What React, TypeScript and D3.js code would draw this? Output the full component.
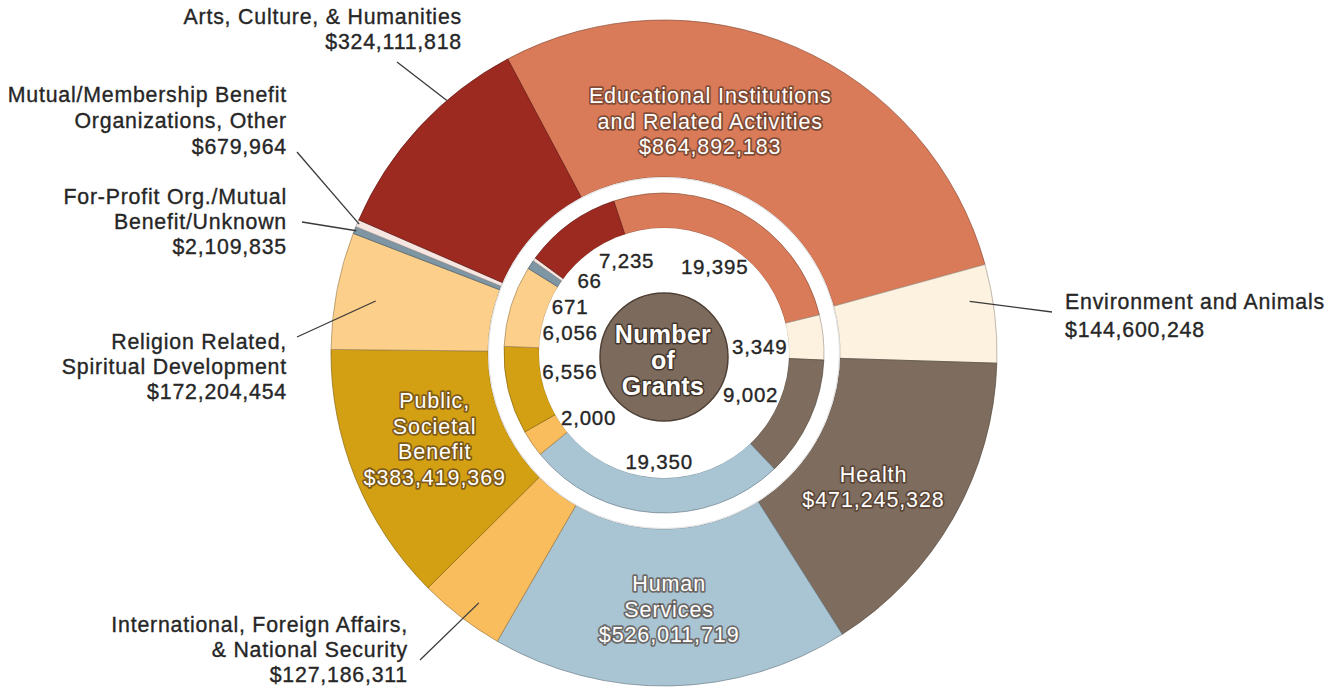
import React from 'react';
import * as d3 from 'd3';

// ---------- DATA ----------
const categoryKeys = ['edu', 'env', 'health', 'human', 'intl', 'public', 'religion', 'forprofit', 'mutual', 'arts'];
const categoryNames = [
  'Educational Institutions and Related Activities',
  'Environment and Animals',
  'Health',
  'Human Services',
  'International, Foreign Affairs, & National Security',
  'Public, Societal Benefit',
  'Religion Related, Spiritual Development',
  'For-Profit Org./Mutual Benefit/Unknown',
  'Mutual/Membership Benefit Organizations, Other',
  'Arts, Culture, & Humanities',
];
const dollarAmounts = [864892183, 144600248, 471245328, 526011719, 127186311, 383419369, 172204454, 2109835, 679964, 324111818];
const grantCounts = [19395, 3349, 9002, 19350, 2000, 6556, 6056, 671, 66, 7235];
const sliceColors = ['#d97a58', '#fdf2e0', '#7e6d5e', '#a9c5d4', '#f9bd5e', '#d3a014', '#fccf8a', '#7e95a3', '#f5e6e2', '#9c2a21'];

// label text lines
const insideLabelLines: Record<string, string[]> = {
  edu: ['Educational Institutions', 'and Related Activities'],
  health: ['Health'],
  human: ['Human', 'Services'],
  public: ['Public,', 'Societal', 'Benefit'],
};
const outsideLabelLines: Record<string, string[]> = {
  arts: ['Arts, Culture, & Humanities'],
  mutual: ['Mutual/Membership Benefit', 'Organizations, Other'],
  forprofit: ['For-Profit Org./Mutual', 'Benefit/Unknown'],
  religion: ['Religion Related,', 'Spiritual Development'],
  intl: ['International, Foreign Affairs,', '& National Security'],
  env: ['Environment and Animals'],
};
const centerTitle = ['Number', 'of', 'Grants'];

// ---------- LAYOUT ----------
const W = 1330;
const H = 692;
const cx = 664;
const cy = 353;
const outerR = 333;
const outerInnerR = 176;
const innerOuterR = 160;
const innerInnerR = 125;
const centerR = 64;
const deg = Math.PI / 180;
const outerStart = -28 * deg;
const innerStart = -18.3 * deg;
const minFrac = 0.0035; // visibility minimum for hairline slices

// inside-label placements: angle nudge (deg) from slice mid, radius
const insidePlace: Record<string, { nudge: number; r: number }> = {
  edu: { nudge: -12, r: 236 },
  health: { nudge: 3, r: 249 },
  human: { nudge: 0, r: 257 },
  public: { nudge: 1.5, r: 245 },
};
// inner-ring number placements
const innerPlace: Record<string, { nudge: number; r: number }> = {
  edu: { nudge: 1.5, r: 100 },
  env: { nudge: 1.5, r: 96 },
  health: { nudge: 1, r: 96 },
  human: { nudge: -1, r: 109 },
  intl: { nudge: -6, r: 99 },
  public: { nudge: 2.5, r: 96 },
  religion: { nudge: -5, r: 96 },
  forprofit: { nudge: -7, r: 105 },
  mutual: { nudge: 8.5, r: 104 },
  arts: { nudge: 14, r: 100 },
};
// outside callouts: leader start in slice (fraction of span, radius); leader end & text (offsets from center)
const outsidePlace: Record<string, { frac: number; r: number; end: [number, number]; text: [number, number]; anchor: 'start' | 'end'; lh: number }> = {
  arts: { frac: 0.67, r: 333, end: [-267, -291], text: [-202, -336], anchor: 'end', lh: 25 },
  mutual: { frac: 0.5, r: 331, end: [-367, -201], text: [-377, -258], anchor: 'end', lh: 26 },
  forprofit: { frac: 0.5, r: 331, end: [-362, -131], text: [-377, -156], anchor: 'end', lh: 25 },
  religion: { frac: 0.47, r: 293, end: [-367, -16], text: [-377, -11], anchor: 'end', lh: 25 },
  intl: { frac: 0.43, r: 311, end: [-244, 307], text: [-256, 272], anchor: 'end', lh: 25 },
  env: { frac: 0.34, r: 310, end: [388, -41], text: [401, -51], anchor: 'start', lh: 28 },
};

const fmtDollar = d3.format('$,');
const fmtCount = d3.format(',');
const FONT = '"Liberation Sans", Arial, Helvetica, sans-serif';

function polar(a: number, r: number): [number, number] {
  return [cx + r * Math.sin(a), cy - r * Math.cos(a)];
}

export default function App() {
  const idx = d3.range(categoryKeys.length);
  const dollarTotal = d3.sum(dollarAmounts);
  const grantTotal = d3.sum(grantCounts);

  const outerPie = d3
    .pie<number>()
    .sort(null)
    .value((i) => Math.max(dollarAmounts[i], dollarTotal * minFrac))
    .startAngle(outerStart)
    .endAngle(outerStart + 2 * Math.PI);
  const innerPie = d3
    .pie<number>()
    .sort(null)
    .value((i) => Math.max(grantCounts[i], grantTotal * minFrac))
    .startAngle(innerStart)
    .endAngle(innerStart + 2 * Math.PI);

  const outerArcs = outerPie(idx);
  const innerArcs = innerPie(idx);

  const outerArc = d3.arc<d3.PieArcDatum<number>>().innerRadius(outerInnerR).outerRadius(outerR);
  const innerArc = d3.arc<d3.PieArcDatum<number>>().innerRadius(innerInnerR).outerRadius(innerOuterR);

  const strokeOf = (c: string) => (d3.color(c) as d3.RGBColor).darker(1.2).formatHex();

  const haloStyle = {
    fill: '#ffffff',
    stroke: 'rgba(70,45,30,0.6)',
    strokeWidth: 3.5,
    strokeLinejoin: 'round' as const,
    paintOrder: 'stroke' as const,
  };
  const darkText = {
    fill: '#262626',
    stroke: '#262626',
    strokeWidth: 0.35,
  };

  return (
    <svg
      width={W}
      height={H}
      viewBox={`0 0 ${W} ${H}`}
      style={{ position: 'absolute', left: 0, top: 0, background: '#ffffff' }}
      fontFamily={FONT}
    >
      <rect x={0} y={0} width={W} height={H} fill="#ffffff" />

      {/* outer ring: dollars */}
      <g transform={`translate(${cx},${cy})`}>
        {outerArcs.map((a) => (
          <path
            key={'o' + a.data}
            d={outerArc(a) || ''}
            fill={sliceColors[a.data]}
            stroke={strokeOf(sliceColors[a.data])}
            strokeOpacity={0.7}
            strokeWidth={1}
          />
        ))}
      </g>

      {/* white gap ring */}
      <circle cx={cx} cy={cy} r={(outerInnerR + innerOuterR) / 2} fill="none" stroke="#ffffff" strokeWidth={outerInnerR - innerOuterR} />
      <circle cx={cx} cy={cy} r={outerInnerR - 0.5} fill="none" stroke="#d8d8d8" strokeWidth={0.8} />

      {/* inner ring: grants */}
      <g transform={`translate(${cx},${cy})`}>
        {innerArcs.map((a) => (
          <path
            key={'i' + a.data}
            d={innerArc(a) || ''}
            fill={sliceColors[a.data]}
            stroke={strokeOf(sliceColors[a.data])}
            strokeOpacity={0.7}
            strokeWidth={1}
          />
        ))}
      </g>
      <circle cx={cx} cy={cy} r={innerInnerR} fill="#ffffff" />

      {/* center */}
      <circle cx={cx} cy={cy + 4} r={centerR} fill="#7c6b5c" stroke="#4e4036" strokeWidth={1.5} />
      {centerTitle.map((t, k) => (
        <text
          key={'c' + k}
          x={cx - 1}
          y={cy - 19 + k * 26}
          textAnchor="middle"
          dominantBaseline="central"
          fontSize={25}
          fontWeight="bold"
          letterSpacing={0.3}
          style={{ ...haloStyle, stroke: 'rgba(40,28,20,0.7)', strokeWidth: 3 }}
        >
          {t}
        </text>
      ))}

      {/* inner ring counts */}
      {innerArcs.map((a) => {
        const key = categoryKeys[a.data];
        const p = innerPlace[key];
        const ang = (a.startAngle + a.endAngle) / 2 + p.nudge * deg;
        const [x, y] = polar(ang, p.r);
        return (
          <text
            key={'n' + a.data}
            x={x}
            y={y}
            textAnchor="middle"
            dominantBaseline="central"
            fontSize={20.5}
            letterSpacing={0.8}
            style={darkText}
          >
            {fmtCount(grantCounts[a.data])}
          </text>
        );
      })}

      {/* inside labels */}
      {outerArcs.map((a) => {
        const key = categoryKeys[a.data];
        const lines = insideLabelLines[key];
        if (!lines) return null;
        const p = insidePlace[key];
        const ang = (a.startAngle + a.endAngle) / 2 + p.nudge * deg;
        const [x, y] = polar(ang, p.r);
        const all = [...lines, fmtDollar(dollarAmounts[a.data])];
        const lh = 25.5;
        const y0 = y - ((all.length - 1) * lh) / 2;
        return (
          <g key={'in' + a.data}>
            {all.map((t, k) => (
              <text
                key={k}
                x={x}
                y={y0 + k * lh}
                textAnchor="middle"
                dominantBaseline="central"
                fontSize={21.5}
                letterSpacing={0.9}
                style={haloStyle}
              >
                {t}
              </text>
            ))}
          </g>
        );
      })}

      {/* outside callouts */}
      {outerArcs.map((a) => {
        const key = categoryKeys[a.data];
        const lines = outsideLabelLines[key];
        if (!lines) return null;
        const p = outsidePlace[key];
        const ang = a.startAngle + p.frac * (a.endAngle - a.startAngle);
        const [x1, y1] = polar(ang, p.r);
        const x2 = cx + p.end[0];
        const y2 = cy + p.end[1];
        const all = [...lines, fmtDollar(dollarAmounts[a.data])];
        return (
          <g key={'out' + a.data}>
            <line x1={x1} y1={y1} x2={x2} y2={y2} stroke="#3a3a3a" strokeWidth={1.3} />
            {all.map((t, k) => (
              <text
                key={k}
                x={cx + p.text[0]}
                y={cy + p.text[1] + k * p.lh}
                textAnchor={p.anchor}
                dominantBaseline="central"
                fontSize={21.3}
                letterSpacing={0.8}
                style={darkText}
              >
                {t}
              </text>
            ))}
          </g>
        );
      })}
    </svg>
  );
}
